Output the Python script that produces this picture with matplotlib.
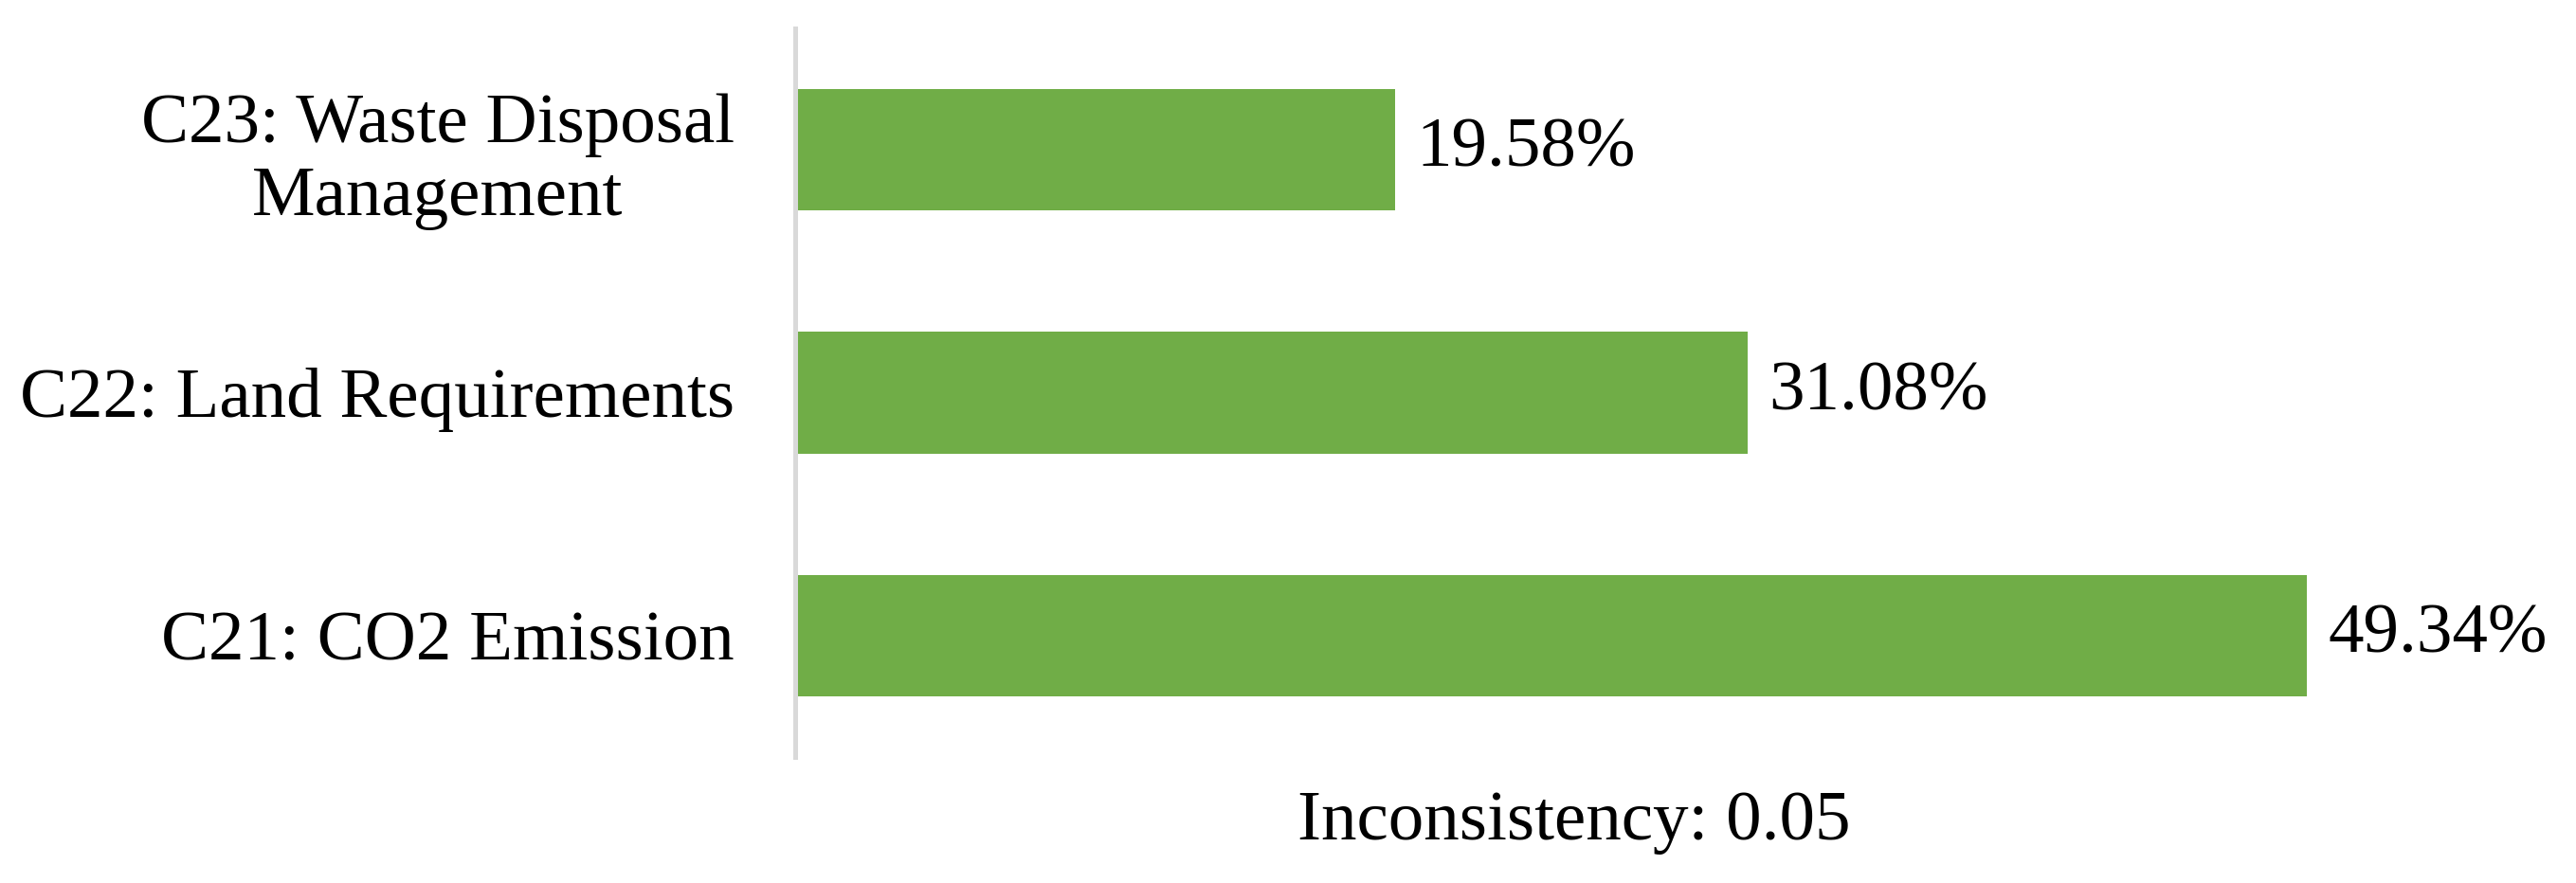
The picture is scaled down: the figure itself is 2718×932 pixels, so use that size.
import matplotlib
matplotlib.use("Agg")
import matplotlib.pyplot as plt

categories = ["C21: CO2 Emission", "C22: Land Requirements", "C23: Waste Disposal\nManagement"]
values = [49.34, 31.08, 19.58]
value_labels = ["49.34%", "31.08%", "19.58%"]
footer = "Inconsistency: 0.05"

plt.rcParams['font.family'] = ['Liberation Serif', 'DejaVu Serif']
FS = 54

fig = plt.figure(figsize=(27.18, 9.32), dpi=100)
W, H = 2718, 932
ax = fig.add_axes([838.5 / W, 1 - 799 / H, (2497 - 838.5) / W, (799 - 30) / H])

ypos = list(range(len(categories)))
ax.barh(ypos, values, height=0.5, color="#70AD47", zorder=2)
ax.set_xlim(0, 51.28)
ax.set_ylim(-0.5, len(categories) - 0.5)

for y, v, t in zip(ypos, values, value_labels):
    ax.annotate(t, xy=(v, y), xytext=(16, 0), textcoords="offset points",
                ha="left", va="center", fontsize=FS, color="black")

ax.set_yticks(ypos)
ax.set_yticklabels(categories, fontsize=FS, linespacing=1.18)
for lbl in ax.get_yticklabels():
    lbl.set_multialignment("center")
ax.tick_params(axis="y", length=0, pad=45.7)
ax.set_xticks([])

for s in ["top", "right", "bottom"]:
    ax.spines[s].set_visible(False)
ax.spines["left"].set_color("#d9d9d9")
ax.spines["left"].set_linewidth(3.6)
ax.spines["left"].set_zorder(3)

fig.text(1661 / W, 1 - 868 / H, footer, ha="center", va="center", fontsize=FS, color="black")

fig.savefig("out.png", dpi=100, facecolor="white")
